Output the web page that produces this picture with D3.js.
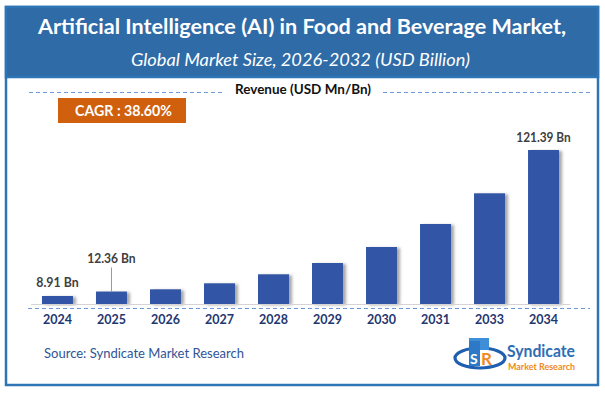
<!DOCTYPE html>
<html>
<head>
<meta charset="utf-8">
<script src="https://cdn.jsdelivr.net/npm/d3@7"></script>
<style>
  html, body { margin: 0; padding: 0; background: #fff; }
  svg { display: block; }
</style>
</head>
<body>
<script>
const years = ["2024","2025","2026","2027","2028","2029","2030","2031","2033","2034"];
const values = [8.91, 12.36, 14.07, 18.69, 25.63, 34.33, 46.66, 64.38, 88.03, 121.39];
const labelledYears = ["2024","2025","2034"];
const titleText = "Artificial Intelligence (AI) in Food and Beverage Market,";
const subtitleText = "Global Market Size, 2026-2032 (USD Billion)";
const axisTitle = "Revenue (USD Mn/Bn)";
const cagrText = "CAGR : 38.60%";
const sourceText = "Source: Syndicate Market Research";

const W = 605, H = 393;
const svg = d3.select("body").append("svg").attr("width", W).attr("height", H);
const font = "Lato, 'Open Sans', sans-serif";

const defs = svg.append("defs");
const f = defs.append("filter").attr("id","shadow").attr("x","-20%").attr("y","-20%").attr("width","160%").attr("height","140%");
f.append("feDropShadow").attr("dx",3).attr("dy",1).attr("stdDeviation",1.6)
  .attr("flood-color","#777").attr("flood-opacity",0.65);

// Frame
svg.append("rect").attr("x",6).attr("y",7).attr("width",592).attr("height",378)
  .attr("fill","#fff").attr("stroke","#2E75B6").attr("stroke-width",2.5);
svg.append("rect").attr("x",6).attr("y",7).attr("width",592).attr("height",70)
  .attr("fill","#2E6BA7").attr("stroke","#2E75B6").attr("stroke-width",2.5);

svg.append("text").attr("x",302).attr("y",34).attr("text-anchor","middle")
  .attr("font-family",font).attr("font-weight","bold").attr("font-size",21)
  .attr("fill","#fff").attr("textLength",528).attr("lengthAdjust","spacingAndGlyphs")
  .text(titleText);
svg.append("text").attr("x",300.5).attr("y",66).attr("text-anchor","middle")
  .attr("font-family",font).attr("font-style","italic").attr("font-size",17)
  .attr("fill","#fff").attr("textLength",339).attr("lengthAdjust","spacingAndGlyphs")
  .text(subtitleText);

// Axis title with dashed rules
svg.append("text").attr("x",303).attr("y",93.5).attr("text-anchor","middle")
  .attr("font-family",font).attr("font-weight","bold").attr("font-size",12.5)
  .attr("fill","#111").attr("textLength",136).attr("lengthAdjust","spacingAndGlyphs")
  .text(axisTitle);
const dashColor = "#6F96D8";
svg.append("line").attr("x1",29).attr("x2",222).attr("y1",92.5).attr("y2",92.5)
  .attr("stroke",dashColor).attr("stroke-dasharray","4,3").attr("stroke-width",1);
svg.append("line").attr("x1",383).attr("x2",590).attr("y1",92.5).attr("y2",92.5)
  .attr("stroke",dashColor).attr("stroke-dasharray","4,3").attr("stroke-width",1);

// CAGR box
svg.append("rect").attr("x",58).attr("y",98).attr("width",128).attr("height",25).attr("fill","#D0600E");
svg.append("text").attr("x",123.5).attr("y",115.5).attr("text-anchor","middle")
  .attr("font-family",font).attr("font-weight","bold").attr("font-size",15)
  .attr("fill","#fff").attr("textLength",97).attr("lengthAdjust","spacingAndGlyphs").text(cagrText);

// Scales
const x = d3.scaleBand().domain(years).range([31, 570]).paddingInner(0.426).paddingOuter(0.203);
const y = d3.scaleLinear().domain([2.75, 121.39]).range([304, 150]);

// Bars
svg.append("g").selectAll("rect").data(years).join("rect")
  .attr("x", d => x(d)).attr("width", x.bandwidth())
  .attr("y", (d,i) => y(values[i])).attr("height", (d,i) => y.range()[0] - y(values[i]))
  .attr("fill","#3357A5").attr("filter","url(#shadow)");

// Baseline
svg.append("line").attr("x1",31).attr("x2",570).attr("y1",304.5).attr("y2",304.5)
  .attr("stroke","#D4D4D4").attr("stroke-width",1.2);
svg.append("line").attr("x1",28).attr("x2",590).attr("y1",308.5).attr("y2",308.5)
  .attr("stroke",dashColor).attr("stroke-dasharray","4,3").attr("stroke-width",1);

// Year labels via axis
const ax = svg.append("g").attr("transform","translate(0,308)")
  .call(d3.axisBottom(x).tickSize(0).tickPadding(7));
ax.select(".domain").remove();
ax.selectAll("text").attr("font-family",font).attr("font-weight","bold").attr("font-size",12.5)
  .attr("fill","#1F3770");

// Value labels
const labelLift = {"2024": 9, "2025": 29, "2034": 8};
labelledYears.forEach(yr => {
  const i = years.indexOf(yr);
  const cx = x(yr) + x.bandwidth()/2;
  const top = y(values[i]);
  const ty = top - labelLift[yr];
  if (labelLift[yr] > 15) {
    svg.append("line").attr("x1",cx).attr("x2",cx).attr("y1",ty+5).attr("y2",top)
      .attr("stroke","#999").attr("stroke-width",1);
  }
  const txt = values[i].toFixed(2) + " Bn";
  svg.append("text").attr("x",cx).attr("y",ty).attr("text-anchor","middle")
    .attr("font-family",font).attr("font-weight","bold").attr("font-size",13)
    .attr("fill","#404040").attr("textLength", txt.length * 6.05).attr("lengthAdjust","spacingAndGlyphs")
    .text(txt);
});

// Source
svg.append("text").attr("x",44).attr("y",358).attr("font-family",font).attr("font-size",13)
  .attr("fill","#2F5496").attr("textLength",200).attr("lengthAdjust","spacingAndGlyphs")
  .text(sourceText);

// Logo
const lg = svg.append("g");
lg.append("ellipse").attr("cx",480).attr("cy",358).attr("rx",25).attr("ry",10)
  .attr("fill","none").attr("stroke","#1F5FB0").attr("stroke-width",3.2);
lg.append("rect").attr("x",469).attr("y",338).attr("width",20).attr("height",12).attr("fill","#3F8FD8");
lg.append("rect").attr("x",469).attr("y",341).attr("width",11).attr("height",25).attr("fill","#2E78C8");
lg.append("text").attr("x",470).attr("y",364).attr("font-family",font).attr("font-weight","bold")
  .attr("font-size",14).attr("fill","#fff").text("S");
lg.append("text").attr("x",481).attr("y",365).attr("font-family",font).attr("font-weight","bold")
  .attr("font-size",17).attr("fill","#F08A24").text("R");
lg.append("text").attr("x",507).attr("y",357).attr("font-family",font).attr("font-weight","bold")
  .attr("font-size",17).attr("fill","#2F6DB5").attr("textLength",68).attr("lengthAdjust","spacingAndGlyphs")
  .text("Syndicate");
lg.append("text").attr("x",508).attr("y",369.5).attr("font-family",font).attr("font-weight","bold")
  .attr("font-size",10).attr("fill","#F08A24").attr("textLength",67).attr("lengthAdjust","spacingAndGlyphs")
  .text("Market Research");
</script>
</body>
</html>
